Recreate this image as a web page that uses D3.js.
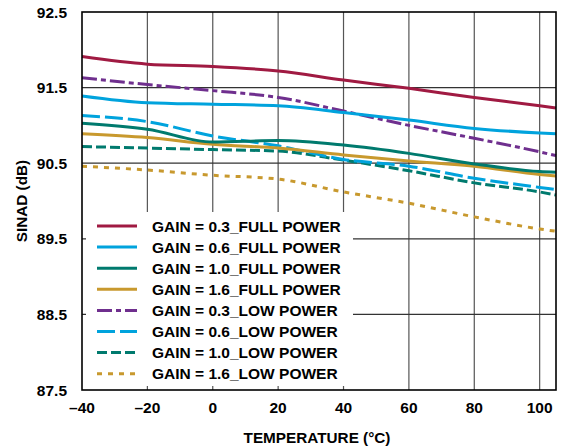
<!DOCTYPE html>
<html><head><meta charset="utf-8">
<script src="https://cdn.jsdelivr.net/npm/d3@7"></script>
<style>
body{margin:0;background:#fff;}
svg text{font-family:"Liberation Sans",Arial,sans-serif;font-weight:bold;fill:#000;}
</style></head>
<body><svg id="c" width="569" height="446"></svg>
<script>
const temps = [-40, -20, 0, 20, 40, 60, 80, 100, 105];
const gain03Full = [91.91, 91.81, 91.78, 91.72, 91.60, 91.49, 91.37, 91.26, 91.23];
const gain06Full = [91.39, 91.30, 91.28, 91.26, 91.17, 91.07, 90.96, 90.90, 90.89];
const gain10Full = [91.03, 90.95, 90.78, 90.80, 90.74, 90.63, 90.49, 90.39, 90.38];
const gain16Full = [90.89, 90.84, 90.75, 90.70, 90.61, 90.53, 90.46, 90.35, 90.33];
const gain03Low  = [91.63, 91.54, 91.46, 91.37, 91.19, 91.00, 90.83, 90.65, 90.60];
const gain06Low  = [91.13, 91.05, 90.86, 90.73, 90.55, 90.46, 90.30, 90.18, 90.15];
const gain10Low  = [90.72, 90.70, 90.68, 90.66, 90.54, 90.40, 90.24, 90.12, 90.08];
const gain16Low  = [90.46, 90.41, 90.34, 90.29, 90.12, 89.97, 89.79, 89.63, 89.60];
const seriesNames = ["GAIN = 0.3_FULL POWER","GAIN = 0.6_FULL POWER","GAIN = 1.0_FULL POWER","GAIN = 1.6_FULL POWER",
                     "GAIN = 0.3_LOW POWER","GAIN = 0.6_LOW POWER","GAIN = 1.0_LOW POWER","GAIN = 1.6_LOW POWER"];
const xTicks = [-40, -20, 0, 20, 40, 60, 80, 100];
const yTicks = [87.5, 88.5, 89.5, 90.5, 91.5, 92.5];

const seriesValues = [gain03Full, gain06Full, gain10Full, gain16Full, gain03Low, gain06Low, gain10Low, gain16Low];
const colors = ["#A01A42","#00A3DD","#007A6E","#C8992E","#6F2F8E","#00A3DD","#007A6E","#C8992E"];
const dashes = [null,null,null,null,"15,4,5,4","18,5","10,4","5,6"];

const svg = d3.select("#c");
const L=82, R=556, T=12, B=390;
const x = d3.scaleLinear().domain([-40,105]).range([L,R]);
const y = d3.scaleLinear().domain([87.5,92.5]).range([B,T]);

// grid
svg.append("g").selectAll("line").data(xTicks.slice(1)).join("line")
  .attr("x1",d=>x(d)).attr("x2",d=>x(d)).attr("y1",T).attr("y2",B)
  .attr("stroke","#555").attr("stroke-width",1.2);
svg.append("g").selectAll("line").data(yTicks.slice(1,-1)).join("line")
  .attr("x1",L).attr("x2",R).attr("y1",d=>y(d)).attr("y2",d=>y(d))
  .attr("stroke","#333").attr("stroke-width",1.2);

// lines
const line = d3.line().x(d=>x(d[0])).y(d=>y(d[1])).curve(d3.curveMonotoneX);
const order = [7,6,5,3,2,4,1,0];
order.forEach(i=>{
  svg.append("path").datum(temps.map((t,k)=>[t,seriesValues[i][k]]))
    .attr("d",line).attr("fill","none").attr("stroke",colors[i]).attr("stroke-width",3)
    .attr("stroke-dasharray",dashes[i]);
});

// legend
const lg = svg.append("g");
lg.append("rect").attr("x",86).attr("y",212).attr("width",267).attr("height",174).attr("fill","#fff");
seriesNames.forEach((n,i)=>{
  const cy = 226 + i*21.1;
  lg.append("line").attr("x1",97).attr("x2",137).attr("y1",cy).attr("y2",cy)
    .attr("stroke",colors[i]).attr("stroke-width",3).attr("stroke-dasharray",dashes[i]);
  lg.append("text").attr("x",152).attr("y",cy+5.5).attr("font-size","15.5px").text(n);
});

// frame
svg.append("rect").attr("x",L).attr("y",T).attr("width",R-L).attr("height",B-T)
  .attr("fill","none").attr("stroke","#000").attr("stroke-width",1.6);

// tick labels
svg.append("g").selectAll("text").data(yTicks).join("text")
  .attr("x",67).attr("y",d=>y(d)+5.5).attr("text-anchor","end").attr("font-size","15.5px")
  .text(d=>d.toFixed(1));
svg.append("g").selectAll("text").data(xTicks).join("text")
  .attr("x",d=>x(d)).attr("y",413).attr("text-anchor","middle").attr("font-size","15.5px")
  .text(d=>d<0?"\u2013"+Math.abs(d):String(d));

// axis titles
svg.append("text").attr("x",317).attr("y",443).attr("text-anchor","middle").attr("font-size","15.3px")
  .text("TEMPERATURE (°C)");
svg.append("text").attr("transform","translate(27,201) rotate(-90)").attr("text-anchor","middle")
  .attr("font-size","15.3px").text("SINAD (dB)");
</script></body></html>
